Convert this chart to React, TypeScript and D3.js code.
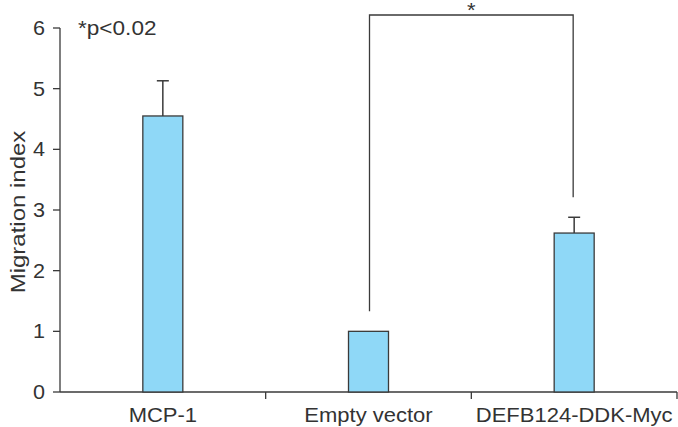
import React from "react";
import * as d3 from "d3";

const categories = ["MCP-1", "Empty vector", "DEFB124-DDK-Myc"];
const means = [4.55, 1.0, 2.62];
const errors = [0.58, 0, 0.26];
const yTicks = [0, 1, 2, 3, 4, 5, 6];
const sigNote = "*p<0.02";
const yLabel = "Migration index";

function SText(props: { x: number; y: number; sx: number; size: number; anchor?: string; rotate?: number; children: React.ReactNode }) {
  const { x, y, sx, size, anchor, rotate, children } = props;
  return (
    <text
      transform={`translate(${x},${y}) rotate(${rotate || 0}) scale(${sx},1)`}
      textAnchor={anchor || "start"}
      fontSize={size}
      fill="#333"
    >
      {children}
    </text>
  );
}

export default function App() {
  const W = 678, H = 427;
  const x0 = 60, x1 = 677, y0 = 392, y1 = 28;
  const x = d3.scaleBand<string>().domain(categories).range([x0, x1]).paddingInner(0).paddingOuter(0);
  const y = d3.scaleLinear().domain([0, 6]).range([y0, y1]);
  const barW = 40;
  const cx = (c: string) => (x(c) as number) + x.bandwidth() / 2;
  const ink = "#3a3a3a";
  const font = "'Liberation Sans', Arial, sans-serif";
  const bracketTop = 15;
  const leftDrop = y(1) - 20;
  const rightDrop = y(means[2] + errors[2]) - 20;
  return (
    <svg width={W} height={H} style={{ position: "absolute", left: 0, top: 0 }} fontFamily={font}>
      {/* y axis */}
      <line x1={x0} x2={x0} y1={y1} y2={y0} stroke={ink} strokeWidth={1.3} />
      {yTicks.map((t) => (
        <g key={t}>
          <line x1={x0 - 7} x2={x0} y1={y(t)} y2={y(t)} stroke={ink} strokeWidth={1.3} />
          <SText x={45} y={y(t) + 7} sx={1.08} size={20} anchor="end">{t}</SText>
        </g>
      ))}
      <SText x={25} y={212} sx={1.2} size={20} anchor="middle" rotate={-90}>{yLabel}</SText>
      {/* x axis */}
      <line x1={x0} x2={x1} y1={y0} y2={y0} stroke={ink} strokeWidth={1.3} />
      {categories.map((c) => (
        <line key={c} x1={(x(c) as number) + x.bandwidth()} x2={(x(c) as number) + x.bandwidth()} y1={y0} y2={y0 + 7} stroke={ink} strokeWidth={1.3} />
      ))}
      {categories.map((c) => (
        <SText key={c} x={cx(c)} y={422} sx={1.1} size={20} anchor="middle">{c}</SText>
      ))}
      {/* bars */}
      {categories.map((c, i) => (
        <g key={c}>
          {errors[i] > 0 && (
            <g stroke={ink} strokeWidth={1.5}>
              <line x1={cx(c)} x2={cx(c)} y1={y(means[i])} y2={y(means[i] + errors[i])} />
              <line x1={cx(c) - 6} x2={cx(c) + 6} y1={y(means[i] + errors[i])} y2={y(means[i] + errors[i])} />
            </g>
          )}
          <rect x={cx(c) - barW / 2} y={y(means[i])} width={barW} height={y0 - y(means[i])} fill="#8fd8f7" stroke={ink} strokeWidth={1.3} />
        </g>
      ))}
      {/* significance bracket */}
      <path d={`M${cx(categories[1]) + 1},${leftDrop} V${bracketTop} H${cx(categories[2]) - 1} V${rightDrop}`} fill="none" stroke={ink} strokeWidth={1.3} />
      <SText x={(cx(categories[1]) + cx(categories[2])) / 2} y={17} sx={1.1} size={20} anchor="middle">*</SText>
      <SText x={78} y={y(6) + 7} sx={1.13} size={20}>{sigNote}</SText>
    </svg>
  );
}
